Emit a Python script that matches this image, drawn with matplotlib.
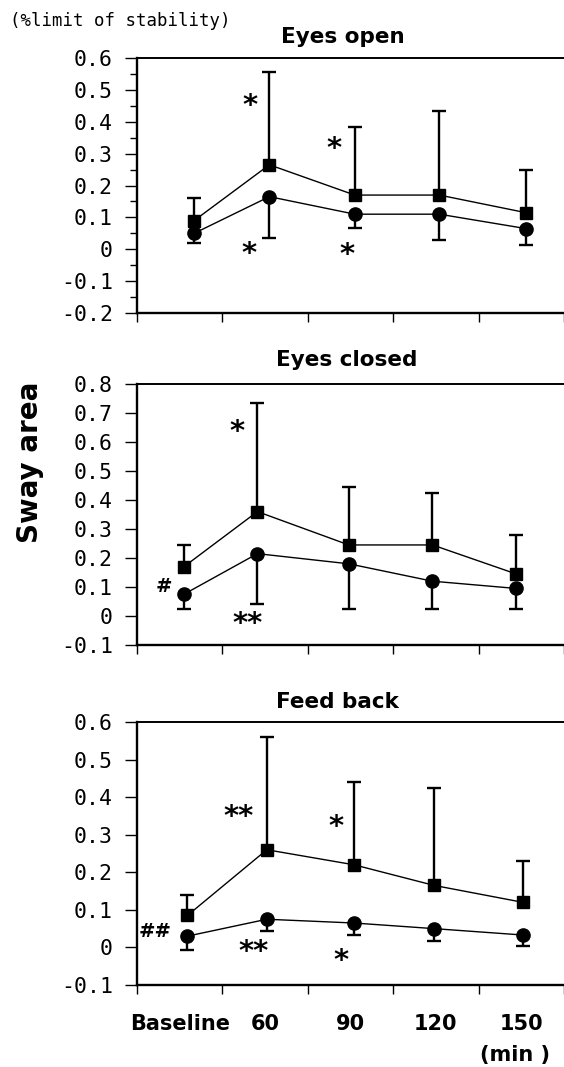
import matplotlib
matplotlib.use("Agg")
import matplotlib.pyplot as plt
import numpy as np
from matplotlib.ticker import FixedLocator, FixedFormatter, NullLocator

plt.rcParams['axes.unicode_minus'] = False

# ---------------- data ----------------
categories = ['Baseline', '60', '90', '120', '150']

# Eyes open
eo_sq_mean = [0.09, 0.265, 0.17, 0.17, 0.115]
eo_sq_top = [0.16, 0.555, 0.385, 0.435, 0.25]
eo_ci_mean = [0.05, 0.165, 0.11, 0.11, 0.065]
eo_ci_bot = [0.02, 0.035, 0.067, 0.03, 0.014]

# Eyes closed
ec_sq_mean = [0.17, 0.36, 0.245, 0.245, 0.145]
ec_sq_top = [0.245, 0.735, 0.445, 0.425, 0.28]
ec_ci_mean = [0.075, 0.215, 0.18, 0.12, 0.095]
ec_ci_bot = [0.025, 0.04, 0.025, 0.025, 0.025]

# Feed back
fb_sq_mean = [0.085, 0.26, 0.22, 0.165, 0.12]
fb_sq_top = [0.14, 0.56, 0.44, 0.425, 0.23]
fb_ci_mean = [0.03, 0.075, 0.065, 0.05, 0.033]
fb_ci_bot = [-0.008, 0.043, 0.033, 0.018, 0.004]

eo_yticks = [-0.2, -0.1, 0, 0.1, 0.2, 0.3, 0.4, 0.5, 0.6]
eo_ylabels = ['-0.2', '-0.1', '0', '0.1', '0.2', '0.3', '0.4', '0.5', '0.6']
ec_yticks = [-0.1, 0, 0.1, 0.2, 0.3, 0.4, 0.5, 0.6, 0.7, 0.8]
ec_ylabels = ['-0.1', '0', '0.1', '0.2', '0.3', '0.4', '0.5', '0.6', '0.7', '0.8']
fb_yticks = [-0.1, 0, 0.1, 0.2, 0.3, 0.4, 0.5, 0.6]
fb_ylabels = ['-0.1', '0', '0.1', '0.2', '0.3', '0.4', '0.5', '0.6']

titles = ['Eyes open', 'Eyes closed', 'Feed back']

# significance marks: (text, x, y)
eo_marks = [('*', 0.82, 0.462), ('*', 1.81, 0.327), ('*', 0.81, 0.0), ('*', 1.96, -0.005)]
ec_marks = [('*', 0.674, 0.648), ('**', 0.80, -0.014), ('#', -0.19, 0.107)]
fb_marks = [('**', 0.695, 0.358), ('*', 1.83, 0.331), ('**', 0.86, 0.0),
            ('*', 1.89, -0.025), ('##', -0.285, 0.047)]

# ---------------- layout ----------------
W, H = 564, 1067
fig = plt.figure(figsize=(W / 100, H / 100), dpi=100)

panel_px = [(58, 313), (384, 645), (722, 985)]   # top, bottom in pixels
left_px, right_px = 137, 564
x_shift = [[0.17, 0.05, 0.05, 0.04, 0.05],
           [0.05, -0.09, -0.02, -0.04, -0.06],
           [0.09, 0.02, 0.04, -0.02, 0.02]]
title_x = [0.482, 0.49, 0.47]
title_off = [11, 13, 10]

panels = [
    (eo_sq_mean, eo_sq_top, eo_ci_mean, eo_ci_bot, eo_yticks, eo_ylabels, eo_marks, True),
    (ec_sq_mean, ec_sq_top, ec_ci_mean, ec_ci_bot, ec_yticks, ec_ylabels, ec_marks, False),
    (fb_sq_mean, fb_sq_top, fb_ci_mean, fb_ci_bot, fb_yticks, fb_ylabels, fb_marks, False),
]

mono = 'DejaVu Sans Mono'
bold = 'DejaVu Sans'

for i, (sq_m, sq_t, ci_m, ci_b, yt, yl, marks, minor) in enumerate(panels):
    top, bot = panel_px[i]
    ax = fig.add_axes([left_px / W, 1 - bot / H, (right_px - left_px) / W, (bot - top) / H])
    x = np.arange(len(categories)) + np.array(x_shift[i])

    # error bars: squares upward, circles downward
    ax.vlines(x, sq_m, sq_t, color='k', lw=1.7, zorder=2)
    ax.plot(x, sq_t, ls='none', marker='_', ms=9.5, mew=1.7, color='k', zorder=2)
    ax.vlines(x, ci_b, ci_m, color='k', lw=1.7, zorder=2)
    ax.plot(x, ci_b, ls='none', marker='_', ms=9.5, mew=1.7, color='k', zorder=2)

    ax.plot(x, sq_m, '-', color='k', lw=1.0, marker='s', ms=8, zorder=3)
    ax.plot(x, ci_m, '-', color='k', lw=1.0, marker='o', ms=9.5, zorder=3)

    ax.set_xlim(-0.5, 4.5)
    ax.set_ylim(yt[0], yt[-1])

    for s in ['left', 'bottom']:
        ax.spines[s].set_linewidth(1.7)
    ax.spines['top'].set_linewidth(1.4)
    ax.spines['right'].set_visible(False)

    ax.xaxis.set_major_locator(FixedLocator(np.arange(-0.5, 5.0, 1.0)))
    ax.xaxis.set_major_formatter(FixedFormatter([''] * 6))
    ax.tick_params(axis='x', which='major', direction='out', length=6.5, width=1.0)
    if i == 2:
        ax.set_xticks(np.arange(len(categories)), categories, minor=True)
        ax.tick_params(axis='x', which='minor', length=0, pad=21)
        for lab in ax.get_xticklabels(minor=True):
            lab.set_fontfamily(bold)
            lab.set_fontweight('bold')
            lab.set_fontsize(15)
    else:
        ax.xaxis.set_minor_locator(NullLocator())

    ax.yaxis.set_major_locator(FixedLocator(yt))
    ax.yaxis.set_major_formatter(FixedFormatter(yl))
    ax.tick_params(axis='y', which='major', direction='out', length=8.6, width=1.0, pad=8.6)
    for lab in ax.get_yticklabels():
        lab.set_fontfamily(mono)
        lab.set_fontsize(15.5)
    if minor:
        yt_arr = np.array(yt)
        ax.yaxis.set_minor_locator(FixedLocator((yt_arr[:-1] + yt_arr[1:]) / 2))
        ax.tick_params(axis='y', which='minor', direction='out', length=5, width=1.0)
    else:
        ax.yaxis.set_minor_locator(NullLocator())

    ax.annotate(titles[i], xy=(title_x[i], 1), xycoords='axes fraction',
                xytext=(0, title_off[i]), textcoords='offset points',
                ha='center', va='baseline', fontsize=15.5, fontweight='bold', family=bold)

    for txt, mx, my in marks:
        if '#' in txt:
            fs, k = 14, 0.36
        else:
            fs, k = 21, 0.42
        ax.annotate(txt, xy=(mx, my), xycoords='data', xytext=(0, -k * fs),
                    textcoords='offset points', ha='center', va='baseline',
                    fontsize=fs, fontweight='bold', family=bold)

fig.text(10 / W, 1 - 21 / H, '(%limit of stability)', ha='left', va='center', family=mono, fontsize=12.5)
fig.text(30 / W, 1 - 462 / H, 'Sway area', rotation=90, ha='center', va='center',
         family=bold, fontweight='bold', fontsize=20)
fig.text(515 / W, 1 - 1055 / H, '(min )', ha='center', va='center', family=bold,
         fontweight='bold', fontsize=15)

fig.savefig('out.png', dpi=100)
